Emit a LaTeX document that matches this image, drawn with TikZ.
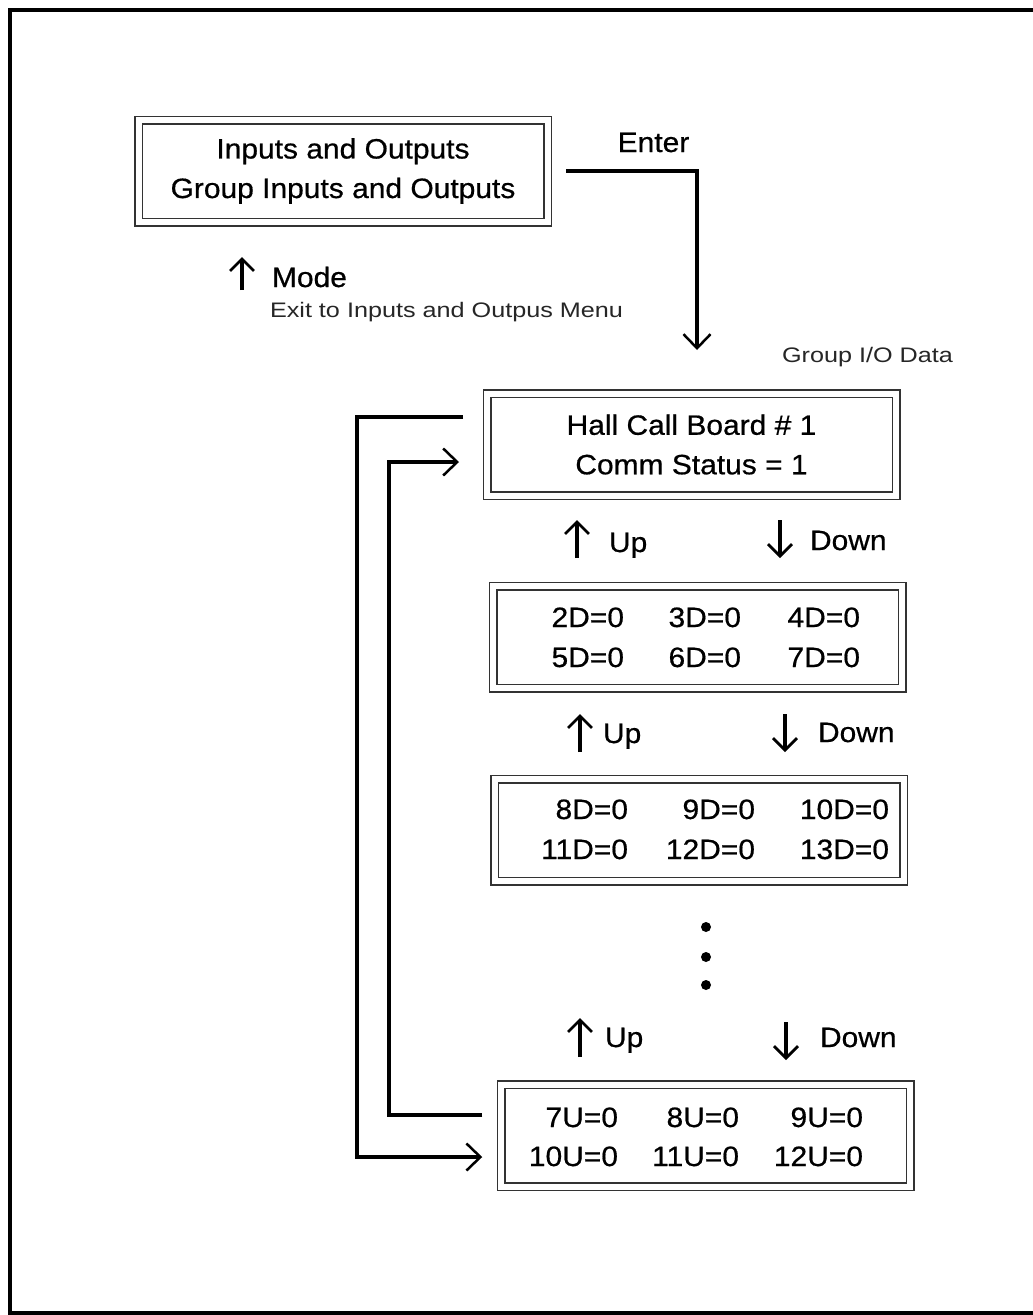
\documentclass[tikz,border=0pt]{standalone}
\usepackage{fontspec}
\setmainfont{Liberation Sans}
\newfontfamily\mainf[FakeStretch=1.07,FakeBold=0.6]{Liberation Sans}
\newfontfamily\smallf[FakeStretch=1.2]{Liberation Sans}
\usetikzlibrary{arrows.meta,calc}
\begin{document}
\begin{tikzpicture}[x=1pt,y=-1pt,
  box/.style={draw=black!80, line width=1.5pt, double=white, double distance=6pt,
    minimum width=409pt, minimum height=102pt, inner sep=0pt, outer sep=0pt,
    align=center, font=\mainf\fontsize{28}{39.5}\selectfont},
  lbl/.style={inner sep=0pt, outer sep=0pt, font=\mainf\fontsize{28}{34}\selectfont},
  cell/.style={lbl, anchor=base east},
  note/.style={inner sep=0pt, outer sep=0pt, anchor=base west, text=black!85,
    font=\smallf\fontsize{21}{25}\selectfont},
  conn/.style={line width=4pt, line join=miter,
    -{Straight Barb[length=14pt,width=27pt,line width=2.5pt]}},
  glyph/.style={line width=3.2pt, -{Straight Barb[length=12pt,width=24pt,line width=2.7pt]}},
  dot/.style={circle, fill=black, inner sep=0pt, minimum size=10pt}
]
\useasboundingbox (0,0) rectangle (1033,1315);
\fill[white] (0,0) rectangle (1033,1315);
% frame
\draw[line width=4pt] (1040,10) -- (9.5,10) -- (9.5,1313) -- (1040,1313);

% boxes
\node[box] (b1) at (343,171) {Inputs and Outputs\\Group Inputs and Outputs};
\node[box] (b2) at (691.5,444.5) {Hall Call Board \# 1\\Comm Status = 1};
\node[box] (b3) at (697.5,637) {};
\node[box] (b4) at (699,830) {};
\node[box] (b5) at (705.75,1135.5) {};

% box 3 cells
\node[cell] (c3a) at (624,627) {2D=0};
\node[cell] (c3b) at (741,627) {3D=0};
\node[cell] (c3c) at (860,627) {4D=0};
\node[cell] (c3d) at (624,667) {5D=0};
\node[cell] (c3e) at (741,667) {6D=0};
\node[cell] (c3f) at (860,667) {7D=0};
% box 4 cells
\node[cell] (c4a) at (628,819) {8D=0};
\node[cell] (c4b) at (755,819) {9D=0};
\node[cell] (c4c) at (889,819) {10D=0};
\node[cell] (c4d) at (628,859) {11D=0};
\node[cell] (c4e) at (755,859) {12D=0};
\node[cell] (c4f) at (889,859) {13D=0};
% box 5 cells
\node[cell] (c5a) at (618,1127) {7U=0};
\node[cell] (c5b) at (739,1127) {8U=0};
\node[cell] (c5c) at (863,1127) {9U=0};
\node[cell] (c5d) at (618,1166) {10U=0};
\node[cell] (c5e) at (739,1166) {11U=0};
\node[cell] (c5f) at (863,1166) {12U=0};

% labels
\node[lbl, anchor=base] (enter) at (653.5,152) {Enter};
\node[lbl, anchor=base west] (mode) at (272,287) {Mode};
\node[note] (exit) at (270,317) {Exit to Inputs and Outpus Menu};
\node[note] (gio) at (782,362) {Group I/O Data};

\node[lbl, anchor=base west] (up1) at (609,552) {Up};
\node[lbl, anchor=base west] (down1) at (810,550) {Down};
\node[lbl, anchor=base west] (up2) at (603,743) {Up};
\node[lbl, anchor=base west] (down2) at (818,742) {Down};
\node[lbl, anchor=base west] (up3) at (605,1047) {Up};
\node[lbl, anchor=base west] (down3) at (820,1047) {Down};

% glyph arrows
\draw[glyph] ($(mode.base west)+(-30,3)$) -- ++(0,-33);
\draw[glyph] ($(up1.base west)+(-32,6)$) -- ++(0,-38);
\draw[glyph] ($(down1.base west)+(-30,-30)$) -- ++(0,38);
\draw[glyph] ($(up2.base west)+(-23,9)$) -- ++(0,-38);
\draw[glyph] ($(down2.base west)+(-33,-28)$) -- ++(0,38);
\draw[glyph] ($(up3.base west)+(-25,10)$) -- ++(0,-39);
\draw[glyph] ($(down3.base west)+(-34,-25)$) -- ++(0,38);

% dots
\node[dot] (d1) at (706,927) {};
\node[dot] (d2) at (706,957) {};
\node[dot] (d3) at (706,985) {};

% connectors
\draw[conn] ($(b1.east)+(18.5,0)$) -| ($(b2.north)+(5.5,-43.5)$);
\draw[conn] ($(b2.west)+(-24,-27.5)$) -- ++(-106,0) |- ($(b5.west)+(-19,21.5)$);
\draw[conn] ($(b5.west)+(-19,-20.5)$) -- ++(-93,0) |- ($(b2.west)+(-28,17.5)$);
\end{tikzpicture}
\end{document}
